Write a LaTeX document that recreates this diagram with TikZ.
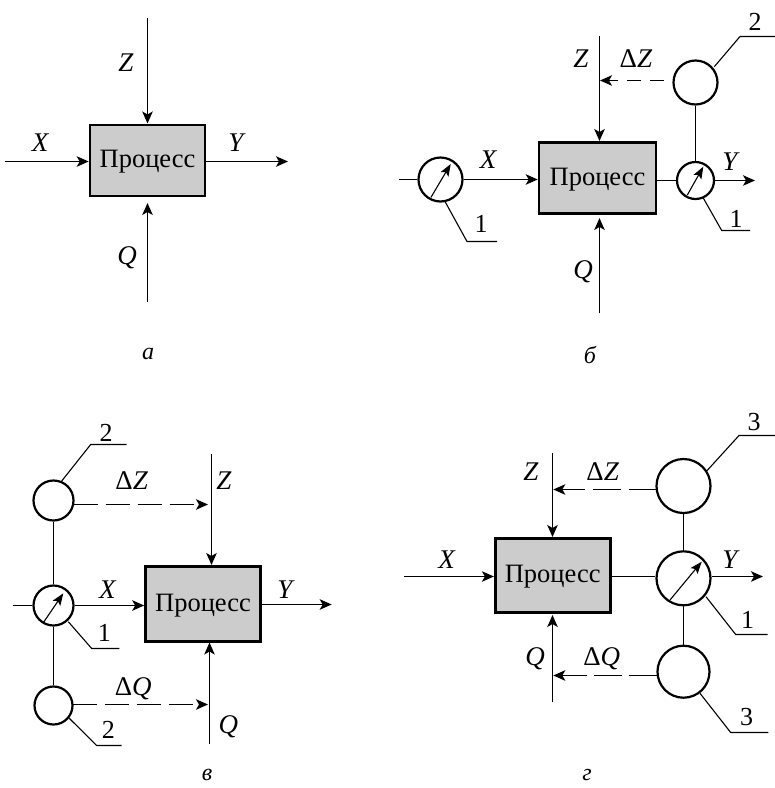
\documentclass[tikz,border=0pt]{standalone}
\usepackage{fontspec}
\setmainfont{Liberation Serif}
\usetikzlibrary{arrows.meta}
\definecolor{procfill}{gray}{0.8}
\tikzset{
  x=1pt,y=-1pt,
  wire/.style={line width=1.2pt,draw=black},
  flow/.style={wire,-{Stealth[length=12pt,width=10.5pt,inset=3pt]}},
  procbox/.style={draw=black,line width=2.6pt,fill=procfill,inner sep=0pt,font=\fontsize{26.5}{26.5}\selectfont,text=black,text height=14pt,text depth=0pt},
  ring/.style={circle,draw=black,line width=2.2pt,fill=white,inner sep=0pt},
  lab/.style={font=\fontsize{27}{27}\selectfont\itshape,inner sep=0pt,text=black},
  dlab/.style={font=\fontsize{27}{27}\selectfont,inner sep=0pt,text=black},
  num/.style={font=\fontsize{26}{26}\selectfont,inner sep=0pt,text=black},
  captxt/.style={font=\fontsize{24}{24}\selectfont\itshape,inner sep=0pt,text=black},
  lead/.style={line width=1.1pt,draw=black},
  gaugearrow/.style={line width=1.1pt,-{Stealth[length=12pt,width=9pt,inset=2.5pt]}},
}
\begin{document}
\begin{tikzpicture}
\useasboundingbox (0,0) rectangle (775,788);

% ---------- panel a
\node[procbox,minimum width=115pt,minimum height=71pt] (pa) at (147.5,160.5) {Процесс};
\coordinate (azt) at (147.5,18); \coordinate (aqb) at (147.5,302);
\coordinate (axl) at (5,161.5); \coordinate (ayr) at (288,161.5);
\draw[flow] (azt) -- (147.5,123.5);
\draw[flow] (aqb) -- (147.5,203);
\draw[flow] (axl) -- (pa.west |- axl);
\draw[flow] (pa.east |- ayr) -- (ayr);
\node[lab] (ax) at (40,143) {X};
\node[lab] (az) at (126,63) {Z};
\node[lab] (ay) at (236,143) {Y};
\node[lab] (aq) at (127,258) {Q};
\node[captxt] (ca) at (148,354) {а};

% ---------- panel b
\node[procbox,minimum width=117pt,minimum height=71pt] (pb) at (597.5,178) {Процесс};
\node[ring,minimum size=44pt] (bg1) at (440.5,179.5) {};
\node[ring,minimum size=37pt] (bg2) at (695.5,180.5) {};
\node[ring,minimum size=44pt] (bc) at (695.5,82.5) {};
\coordinate (bin) at (399,179.5); \coordinate (bout) at (755,180.5);
\coordinate (bzt) at (599.5,36); \coordinate (bqb) at (599.5,313);
\draw[wire] (bin) -- (bg1);
\draw[flow] (bg1) -- (pb.west |- bg1);
\draw[wire] (pb.east |- bg2) -- (bg2);
\draw[flow] (bg2) -- (bout);
\draw[wire] (bc) -- (bg2);
\draw[flow] (bzt) -- (599.5,141);
\draw[flow] (bqb) -- (599.5,218);
\coordinate (bds) at (664,80.5); \coordinate (bde) at (600,80.5);
\draw[flow,dash pattern=on 14pt off 9pt] (bds) -- (bde);
\coordinate (bga1) at (431,197.3); \coordinate (bga2) at (450.7,164);
\draw[gaugearrow] (bga1) -- (bga2);
\coordinate (bgb1) at (687.3,195); \coordinate (bgb2) at (703.3,166.7);
\draw[gaugearrow] (bgb1) -- (bgb2);
\coordinate (bl1) at (467,241.5); \coordinate (bl1e) at (497,241.5);
\draw[lead] (445,201.5) -- (bl1) -- (bl1e);
\coordinate (bl2) at (721.7,230.5); \coordinate (bl2e) at (750,230.5);
\draw[lead] (702.7,197) -- (bl2) -- (bl2e);
\coordinate (bl3) at (740,36.5); \coordinate (bl3e) at (775,36.5);
\draw[lead] (714.3,66.7) -- (bl3) -- (bl3e);
\node[num] (bn1) at (481,224) {1};
\node[num] (bn2) at (736,219) {1};
\node[num] (bn3) at (755,22) {2};
\node[lab] (bx) at (488,160) {X};
\node[lab] (bz) at (581,59) {Z};
\node[dlab] (bdz) at (636,59) {Δ\textit{Z}};
\node[lab] (by) at (730,161.7) {Y};
\node[lab] (bq) at (583,272) {Q};
\node[captxt] (cb) at (590,355) {б};

% ---------- panel v
\node[procbox,minimum width=115pt,minimum height=74.5pt] (pv) at (203,604) {Процесс};
\node[ring,minimum size=40pt] (vc1) at (53.5,500.5) {};
\node[ring,minimum size=40pt] (vg) at (53.5,605.5) {};
\node[ring,minimum size=38pt] (vc2) at (53.5,705.5) {};
\coordinate (vin) at (12.7,605.5); \coordinate (vout) at (331.7,604.5);
\coordinate (vzt) at (211.5,454); \coordinate (vqb) at (209.5,744);
\draw[wire] (vin) -- (vg);
\draw[flow] (vg) -- (pv.west |- vg);
\draw[flow] (pv.east |- vout) -- (vout);
\draw[wire] (vc1) -- (vg);
\draw[wire] (vg) -- (vc2);
\draw[flow] (vzt) -- (211.5,565);
\draw[flow] (vqb) -- (209.5,642.5);
\coordinate (vd1) at (73.5,504.5); \coordinate (vd1e) at (208,504.5);
\coordinate (vd2) at (73,704.5); \coordinate (vd2e) at (208,704.5);
\draw[flow,dash pattern=on 24pt off 8pt] (vd1) -- (vd1e);
\draw[flow,dash pattern=on 24pt off 8pt] (vd2) -- (vd2e);
\coordinate (vga1) at (43.3,622.7); \coordinate (vga2) at (63.3,593.3);
\draw[gaugearrow] (vga1) -- (vga2);
\coordinate (vl1) at (90.7,444.5); \coordinate (vl1e) at (126.7,444.5);
\draw[lead] (61.7,481) -- (vl1) -- (vl1e);
\coordinate (vl2) at (91.7,648.5); \coordinate (vl2e) at (119.3,648.5);
\draw[lead] (68.3,621.7) -- (vl2) -- (vl2e);
\coordinate (vl3) at (96.7,745.5); \coordinate (vl3e) at (121.7,745.5);
\draw[lead] (69.3,718.3) -- (vl3) -- (vl3e);
\node[num] (vn1) at (106,433) {2};
\node[num] (vn2) at (104.3,633) {1};
\node[num] (vn3) at (108.3,730) {2};
\node[dlab] (vdz) at (131.7,481) {Δ\textit{Z}};
\node[lab] (vz) at (224,481) {Z};
\node[lab] (vx) at (107.3,589.3) {X};
\node[lab] (vy) at (285,589.3) {Y};
\node[dlab] (vdq) at (133.3,689) {Δ\textit{Q}};
\node[lab] (vq) at (228.3,726.7) {Q};
\node[captxt] (cv) at (207,775) {в};

% ---------- panel g
\node[procbox,minimum width=115pt,minimum height=74pt] (pg) at (552.7,575.7) {Процесс};
\node[ring,minimum size=54pt] (gc1) at (683.5,486) {};
\node[ring,minimum size=54pt] (gg) at (683.5,578.3) {};
\node[ring,minimum size=52pt] (gc2) at (683.5,671.7) {};
\coordinate (gin) at (404,576.5); \coordinate (gout) at (763,576.5);
\coordinate (gzt) at (552.5,453.3); \coordinate (gqb) at (552.5,701.7);
\draw[flow] (gin) -- (pg.west |- gin);
\draw[wire] (pg.east |- gin) -- (gg.west |- gin);
\draw[flow] (gg.east |- gout) -- (gout);
\draw[wire] (gc1) -- (gg);
\draw[wire] (gg) -- (gc2);
\draw[flow] (gzt) -- (552.5,537);
\draw[flow] (gqb) -- (552.5,615);
\coordinate (gd1) at (656.7,489.5); \coordinate (gd1e) at (553.3,489.5);
\coordinate (gd2) at (656.7,675.5); \coordinate (gd2e) at (553.3,675.5);
\draw[flow,dash pattern=on 28pt off 8pt] (gd1) -- (gd1e);
\draw[flow,dash pattern=on 28pt off 7pt] (gd2) -- (gd2e);
\coordinate (gga1) at (670,600); \coordinate (gga2) at (701.7,561.7);
\draw[gaugearrow] (gga1) -- (gga2);
\coordinate (gl1) at (739,435.5); \coordinate (gl1e) at (775,435.5);
\draw[lead] (706.7,471) -- (gl1) -- (gl1e);
\coordinate (gl2) at (735.7,634.5); \coordinate (gl2e) at (767.7,634.5);
\draw[lead] (706,596.7) -- (gl2) -- (gl2e);
\coordinate (gl3) at (730.7,732.5); \coordinate (gl3e) at (768.3,732.5);
\draw[lead] (700,693.3) -- (gl3) -- (gl3e);
\node[num] (gn1) at (754,421.7) {3};
\node[num] (gn2) at (747.7,620) {1};
\node[num] (gn3) at (746.7,717.3) {3};
\node[lab] (gz) at (531,471.7) {Z};
\node[dlab] (gdz) at (602.7,471.7) {Δ\textit{Z}};
\node[lab] (gx) at (446.7,559.3) {X};
\node[lab] (gy) at (730,559.3) {Y};
\node[lab] (gq) at (535,658.3) {Q};
\node[dlab] (gdq) at (601.7,658.3) {Δ\textit{Q}};
\node[captxt] (cg) at (587,775) {г};
\end{tikzpicture}
\end{document}
